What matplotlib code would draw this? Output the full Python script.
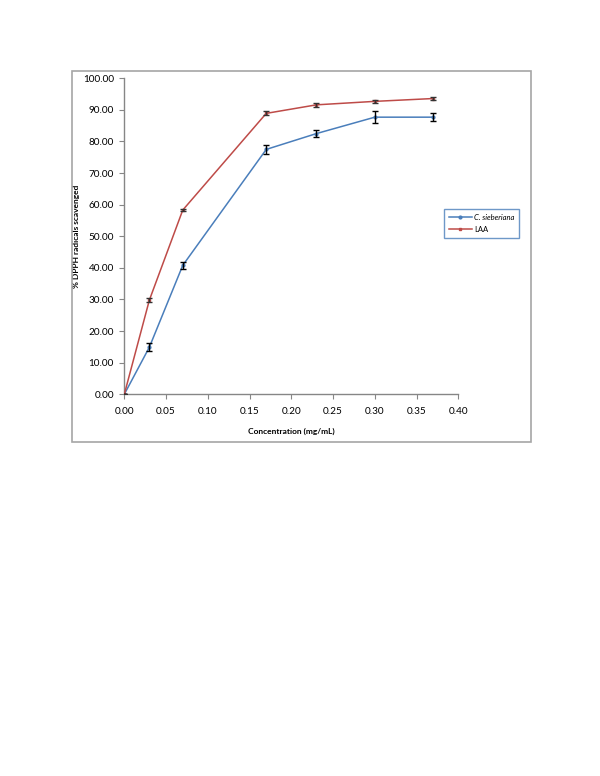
import matplotlib
matplotlib.use("Agg")
import matplotlib.pyplot as plt
from matplotlib.patches import Rectangle

# veriler
konsantrasyon = [0.00, 0.03, 0.07, 0.17, 0.23, 0.30, 0.37]
sieberiana = [0.0, 14.9, 40.8, 77.5, 82.5, 87.7, 87.7]
sieberiana_hata = [0.0, 1.2, 1.0, 1.4, 1.0, 1.8, 1.3]
laa = [0.0, 29.8, 58.3, 88.9, 91.6, 92.7, 93.6]
laa_hata = [0.0, 0.7, 0.3, 0.6, 0.6, 0.4, 0.5]

x_ticks = [0.00, 0.05, 0.10, 0.15, 0.20, 0.25, 0.30, 0.35, 0.40]
y_ticks = [0, 10, 20, 30, 40, 50, 60, 70, 80, 90, 100]

plt.rcParams["font.family"] = ["Lato", "DejaVu Sans"]

fig = plt.figure(figsize=(6, 7.76), dpi=100)

# grafik cercevesi
fig.patches.append(Rectangle((72 / 600, 1 - 442 / 776), 459 / 600, 371 / 776,
                             transform=fig.transFigure, fill=False,
                             edgecolor="#a6a6a6", linewidth=1.2))

ax = fig.add_axes([124.3 / 600, 1 - 394.3 / 776, 334 / 600, 316 / 776])

mavi = "#4a7ebb"
kirmizi = "#be4b48"

ax.plot(konsantrasyon, sieberiana, color=mavi, linewidth=1.1, marker="o",
        markersize=2, label="C. sieberiana", zorder=3)
ax.errorbar(konsantrasyon, sieberiana, yerr=sieberiana_hata, fmt="none",
            ecolor="black", elinewidth=1, capsize=2, capthick=1, zorder=4)

ax.plot(konsantrasyon, laa, color=kirmizi, linewidth=1.1, marker="s",
        markersize=2, label="LAA", zorder=3)
ax.errorbar(konsantrasyon, laa, yerr=laa_hata, fmt="none",
            ecolor="#333333", elinewidth=1, capsize=2, capthick=1, zorder=4)

ax.set_xlim(0, 0.40)
ax.set_ylim(0, 100)
ax.set_xticks(x_ticks)
ax.set_yticks(y_ticks)
ax.set_xticklabels(["%.2f" % t for t in x_ticks], fontsize=7.2)
ax.set_yticklabels(["%.2f" % t for t in y_ticks], fontsize=7.2)

for s in ["top", "right"]:
    ax.spines[s].set_visible(False)
for s in ["left", "bottom"]:
    ax.spines[s].set_color("#868686")
    ax.spines[s].set_linewidth(1)
ax.tick_params(direction="out", length=3.5, color="#868686", pad=4)
ax.tick_params(axis="x", pad=6)

ax.set_xlabel("Concentration (mg/mL)", fontsize=6, fontweight="bold", labelpad=8)
ax.set_ylabel("% DPPH radicals scavenged", fontsize=6, fontweight="bold", labelpad=2)

leg = fig.legend(loc="upper left", bbox_to_anchor=(444 / 600, 1 - 209 / 776),
                 bbox_transform=fig.transFigure, borderaxespad=0, fontsize=5.5,
                 frameon=True, fancybox=False, borderpad=0.6, handlelength=3.0,
                 labelspacing=0.7, handletextpad=0.3)
leg.get_frame().set_edgecolor(mavi)
leg.get_frame().set_linewidth(1)
leg.get_texts()[0].set_style("italic")

fig.savefig("out.png", dpi=100)
